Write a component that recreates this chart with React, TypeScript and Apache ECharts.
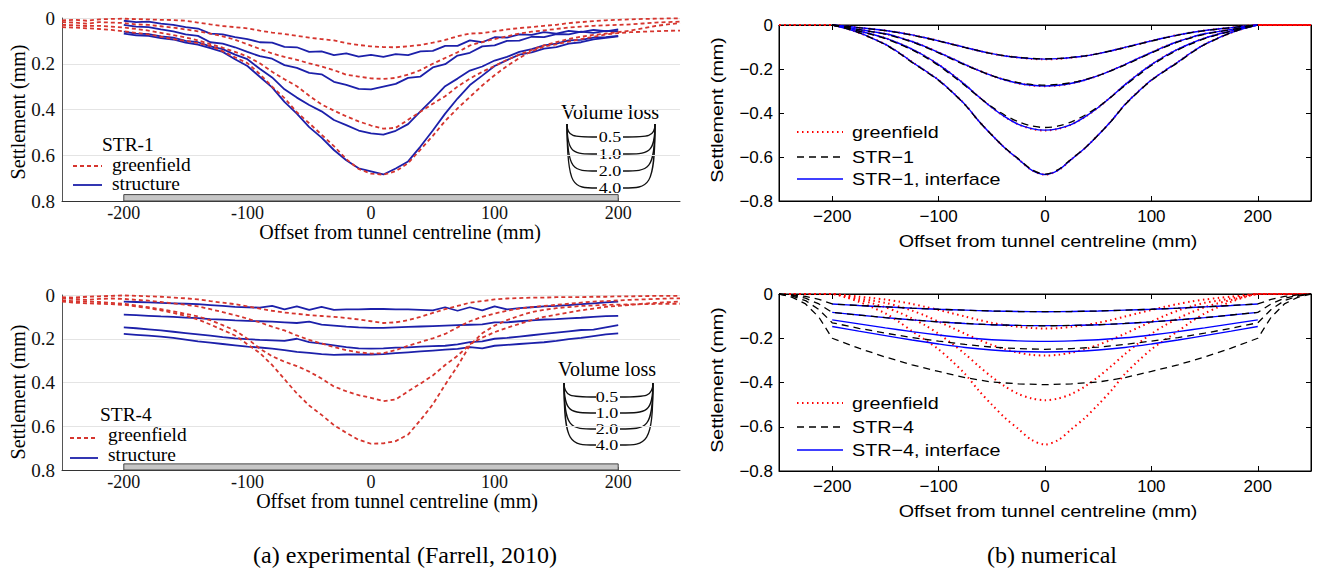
import React, { useEffect, useRef } from "react";
import * as echarts from "echarts";

// ---------- x positions (mm) ----------
const X_EXP_GF = [-250,-240,-230,-220,-210,-200,-190,-180,-170,-160,-150,-140,-130,-120,-110,-100,-90,-80,-70,-60,-50,-40,-30,-20,-10,0,10,20,30,40,50,60,70,80,90,100,110,120,130,140,150,160,170,180,190,200,210,220,230,240,250];
const X_EXP_STR = [-200,-190,-180,-170,-160,-150,-140,-130,-120,-110,-100,-90,-80,-70,-60,-50,-40,-30,-20,-10,0,10,20,30,40,50,60,70,80,90,100,110,120,130,140,150,160,170,180,190,200];
const X_NUM_GF = [-250,-237.5,-225,-212.5,-200,-187.5,-175,-162.5,-150,-137.5,-125,-112.5,-100,-87.5,-75,-62.5,-50,-37.5,-25,-12.5,0,12.5,25,37.5,50,62.5,75,87.5,100,112.5,125,137.5,150,162.5,175,187.5,200,212.5,225,237.5,250];
const X_NUM_STR = [-200,-187.5,-175,-162.5,-150,-137.5,-125,-112.5,-100,-87.5,-75,-62.5,-50,-37.5,-25,-12.5,0,12.5,25,37.5,50,62.5,75,87.5,100,112.5,125,137.5,150,162.5,175,187.5,200];
const X_NUM_INT4 = [-200,-175,-150,-125,-100,-75,-50,-25,0,25,50,75,100,125,150,175,200];
const X_NUM_STR4 = [-250,-237.5,-225,-212.5,-200,-175,-150,-125,-100,-75,-50,-25,0,25,50,75,100,125,150,175,200,212.5,225,237.5,250];
const X_TICKS = [-200, -100, 0, 100, 200];
const VOLUME_LOSS = ["0.5", "1.0", "2.0", "4.0"];
const BUILDING = [-200, 200];
const BUILDING_DEPTH = [0.772, 0.8];

// ---------- (a) experimental, STR-1 (settlement, mm, positive down) ----------
const GF05_A1 = [0.010,0.008,0.012,0.006,0.004,0.003,0.005,0.006,0.008,0.009,0.012,0.020,0.028,0.035,0.040,0.045,0.055,0.064,0.070,0.078,0.086,0.092,0.098,0.110,0.118,0.124,0.127,0.128,0.124,0.118,0.108,0.096,0.080,0.068,0.066,0.058,0.050,0.044,0.040,0.034,0.030,0.022,0.018,0.014,0.010,0.008,0.006,0.004,0.003,0.002,0.002];
const GF10_A1 = [0.018,0.020,0.025,0.018,0.020,0.022,0.028,0.030,0.036,0.042,0.050,0.058,0.068,0.080,0.095,0.115,0.135,0.155,0.170,0.183,0.198,0.212,0.228,0.248,0.256,0.264,0.266,0.262,0.248,0.228,0.200,0.175,0.150,0.120,0.105,0.092,0.080,0.068,0.060,0.054,0.048,0.042,0.038,0.034,0.032,0.030,0.028,0.024,0.020,0.018,0.016];
const GF20_A1 = [0.030,0.032,0.035,0.034,0.038,0.042,0.048,0.055,0.065,0.075,0.085,0.098,0.114,0.130,0.148,0.168,0.198,0.235,0.268,0.298,0.340,0.378,0.405,0.430,0.452,0.470,0.484,0.480,0.445,0.410,0.375,0.342,0.300,0.265,0.235,0.210,0.183,0.160,0.140,0.120,0.105,0.092,0.082,0.074,0.068,0.062,0.055,0.045,0.035,0.028,0.022];
const GF40_A1 = [0.040,0.042,0.045,0.048,0.052,0.058,0.065,0.072,0.082,0.092,0.100,0.110,0.122,0.145,0.172,0.197,0.245,0.300,0.350,0.412,0.460,0.510,0.560,0.617,0.660,0.680,0.685,0.670,0.635,0.575,0.515,0.450,0.395,0.345,0.295,0.250,0.210,0.175,0.145,0.125,0.115,0.103,0.092,0.082,0.072,0.066,0.062,0.060,0.058,0.056,0.055];
const S05_A1 = [0.012,0.018,0.016,0.025,0.030,0.040,0.046,0.068,0.072,0.084,0.092,0.106,0.108,0.126,0.128,0.148,0.146,0.162,0.155,0.169,0.161,0.170,0.158,0.162,0.146,0.144,0.122,0.122,0.098,0.106,0.084,0.086,0.072,0.074,0.062,0.068,0.056,0.062,0.052,0.058,0.050];
const S10_A1 = [0.030,0.038,0.040,0.050,0.058,0.072,0.078,0.106,0.112,0.128,0.148,0.167,0.178,0.206,0.218,0.240,0.246,0.279,0.292,0.310,0.312,0.300,0.288,0.262,0.256,0.216,0.202,0.164,0.152,0.124,0.120,0.100,0.099,0.082,0.084,0.070,0.072,0.060,0.065,0.056,0.058];
const S20_A1 = [0.060,0.068,0.070,0.080,0.086,0.100,0.106,0.124,0.136,0.160,0.180,0.222,0.260,0.312,0.348,0.380,0.408,0.446,0.468,0.492,0.504,0.510,0.493,0.464,0.408,0.355,0.298,0.265,0.230,0.212,0.186,0.170,0.148,0.136,0.120,0.112,0.098,0.096,0.086,0.084,0.078];
const S40_A1 = [0.068,0.076,0.078,0.088,0.094,0.108,0.116,0.132,0.148,0.180,0.210,0.257,0.303,0.367,0.418,0.477,0.523,0.577,0.622,0.657,0.670,0.684,0.658,0.627,0.562,0.492,0.418,0.352,0.293,0.252,0.210,0.184,0.160,0.150,0.134,0.127,0.112,0.106,0.093,0.087,0.080];

// ---------- (a) experimental, STR-4 ----------
const GF05_A2 = [0.010,0.012,0.008,0.006,0.004,0.002,0.004,0.006,0.008,0.012,0.015,0.020,0.028,0.035,0.042,0.052,0.062,0.072,0.080,0.086,0.092,0.096,0.100,0.105,0.112,0.120,0.128,0.125,0.115,0.100,0.082,0.065,0.050,0.035,0.028,0.020,0.016,0.014,0.012,0.012,0.010,0.010,0.010,0.008,0.008,0.006,0.006,0.005,0.004,0.004,0.004];
const GF10_A2 = [0.015,0.018,0.022,0.018,0.016,0.018,0.022,0.026,0.032,0.038,0.045,0.052,0.065,0.078,0.092,0.108,0.125,0.145,0.162,0.185,0.205,0.222,0.238,0.252,0.262,0.268,0.266,0.252,0.232,0.215,0.198,0.178,0.148,0.120,0.100,0.085,0.072,0.062,0.055,0.050,0.045,0.040,0.035,0.030,0.028,0.025,0.022,0.020,0.018,0.016,0.015];
const GF20_A2 = [0.025,0.028,0.030,0.032,0.036,0.040,0.048,0.056,0.065,0.075,0.086,0.098,0.115,0.138,0.162,0.200,0.245,0.280,0.305,0.325,0.350,0.382,0.418,0.440,0.458,0.470,0.485,0.478,0.440,0.405,0.368,0.320,0.278,0.225,0.195,0.170,0.150,0.132,0.115,0.100,0.090,0.080,0.070,0.062,0.054,0.050,0.045,0.040,0.036,0.033,0.030];
const GF40_A2 = [0.030,0.035,0.038,0.040,0.042,0.045,0.052,0.060,0.070,0.082,0.095,0.112,0.135,0.160,0.185,0.225,0.265,0.320,0.385,0.450,0.505,0.548,0.595,0.630,0.662,0.680,0.678,0.668,0.638,0.572,0.500,0.410,0.325,0.230,0.175,0.140,0.115,0.095,0.078,0.068,0.060,0.055,0.050,0.048,0.045,0.044,0.043,0.042,0.041,0.040,0.040];
const S05_A2 = [0.030,0.032,0.034,0.036,0.038,0.040,0.042,0.046,0.050,0.054,0.056,0.058,0.050,0.066,0.052,0.068,0.054,0.068,0.066,0.066,0.064,0.064,0.066,0.066,0.068,0.070,0.056,0.072,0.056,0.070,0.052,0.066,0.060,0.056,0.052,0.050,0.046,0.042,0.038,0.034,0.030];
const S10_A2 = [0.090,0.092,0.095,0.098,0.100,0.103,0.106,0.110,0.113,0.116,0.118,0.120,0.122,0.125,0.128,0.122,0.135,0.140,0.145,0.148,0.150,0.150,0.148,0.146,0.144,0.142,0.140,0.138,0.136,0.134,0.125,0.125,0.120,0.116,0.112,0.110,0.107,0.104,0.100,0.097,0.095];
const S20_A2 = [0.148,0.152,0.157,0.162,0.168,0.174,0.180,0.186,0.193,0.198,0.202,0.205,0.207,0.210,0.200,0.215,0.222,0.230,0.238,0.244,0.245,0.244,0.241,0.239,0.236,0.234,0.232,0.226,0.215,0.212,0.200,0.196,0.190,0.184,0.178,0.172,0.166,0.160,0.158,0.148,0.138];
const S40_A2 = [0.178,0.182,0.186,0.190,0.196,0.204,0.212,0.218,0.224,0.230,0.236,0.240,0.245,0.252,0.260,0.265,0.270,0.274,0.272,0.272,0.272,0.270,0.266,0.262,0.258,0.254,0.250,0.246,0.238,0.244,0.232,0.228,0.224,0.220,0.216,0.210,0.202,0.196,0.188,0.180,0.175];

// ---------- (b) numerical (settlement, mm, negative down) ----------
const GFN_05 = [0,0,0,0,0,-0.005,-0.012,-0.018,-0.025,-0.034,-0.045,-0.058,-0.072,-0.087,-0.102,-0.117,-0.130,-0.141,-0.148,-0.154,-0.156,-0.154,-0.148,-0.141,-0.130,-0.117,-0.102,-0.087,-0.072,-0.058,-0.045,-0.034,-0.025,-0.018,-0.012,-0.005,0,0,0,0,0];
const GFN_10 = [0,0,0,0,0,-0.009,-0.020,-0.030,-0.040,-0.056,-0.075,-0.098,-0.125,-0.152,-0.180,-0.206,-0.230,-0.250,-0.265,-0.275,-0.278,-0.275,-0.265,-0.250,-0.230,-0.206,-0.180,-0.152,-0.125,-0.098,-0.075,-0.056,-0.040,-0.030,-0.020,-0.009,0,0,0,0,0];
const GFN_20 = [0,0,0,0,0,-0.012,-0.027,-0.042,-0.060,-0.083,-0.110,-0.142,-0.180,-0.224,-0.272,-0.325,-0.375,-0.418,-0.452,-0.472,-0.480,-0.472,-0.452,-0.418,-0.375,-0.325,-0.272,-0.224,-0.180,-0.142,-0.110,-0.083,-0.060,-0.042,-0.027,-0.012,0,0,0,0,0];
const GFN_40 = [0,0,0,0,0,-0.015,-0.035,-0.060,-0.088,-0.125,-0.168,-0.208,-0.250,-0.303,-0.362,-0.435,-0.500,-0.560,-0.610,-0.660,-0.680,-0.660,-0.610,-0.560,-0.500,-0.435,-0.362,-0.303,-0.250,-0.208,-0.168,-0.125,-0.088,-0.060,-0.035,-0.015,0,0,0,0,0];
const INT1_05 = [0,-0.005,-0.012,-0.018,-0.025,-0.034,-0.045,-0.058,-0.072,-0.087,-0.102,-0.117,-0.130,-0.141,-0.148,-0.153,-0.155,-0.153,-0.148,-0.141,-0.130,-0.117,-0.102,-0.087,-0.072,-0.058,-0.045,-0.034,-0.025,-0.018,-0.012,-0.005,0];
const INT1_10 = [0,-0.009,-0.020,-0.030,-0.040,-0.056,-0.075,-0.098,-0.125,-0.152,-0.180,-0.206,-0.230,-0.250,-0.265,-0.274,-0.277,-0.274,-0.265,-0.250,-0.230,-0.206,-0.180,-0.152,-0.125,-0.098,-0.075,-0.056,-0.040,-0.030,-0.020,-0.009,0];
const INT1_20 = [0,-0.012,-0.027,-0.042,-0.060,-0.083,-0.110,-0.142,-0.180,-0.224,-0.272,-0.325,-0.375,-0.418,-0.452,-0.471,-0.478,-0.471,-0.452,-0.418,-0.375,-0.325,-0.272,-0.224,-0.180,-0.142,-0.110,-0.083,-0.060,-0.042,-0.027,-0.012,0];
const INT1_40 = [0,-0.015,-0.035,-0.060,-0.088,-0.125,-0.168,-0.208,-0.250,-0.303,-0.362,-0.435,-0.500,-0.560,-0.610,-0.660,-0.680,-0.660,-0.610,-0.560,-0.500,-0.435,-0.362,-0.303,-0.250,-0.208,-0.168,-0.125,-0.088,-0.060,-0.035,-0.015,0];
const STR1_05 = [0,-0.005,-0.012,-0.019,-0.026,-0.035,-0.046,-0.059,-0.073,-0.088,-0.103,-0.117,-0.130,-0.140,-0.147,-0.152,-0.154,-0.152,-0.147,-0.140,-0.130,-0.117,-0.103,-0.088,-0.073,-0.059,-0.046,-0.035,-0.026,-0.019,-0.012,-0.005,0];
const STR1_10 = [0,-0.009,-0.021,-0.031,-0.042,-0.058,-0.077,-0.101,-0.127,-0.155,-0.182,-0.207,-0.230,-0.248,-0.262,-0.270,-0.273,-0.270,-0.262,-0.248,-0.230,-0.207,-0.182,-0.155,-0.127,-0.101,-0.077,-0.058,-0.042,-0.031,-0.021,-0.009,0];
const STR1_20 = [0,-0.012,-0.028,-0.044,-0.062,-0.086,-0.113,-0.146,-0.184,-0.229,-0.276,-0.326,-0.372,-0.410,-0.440,-0.459,-0.466,-0.459,-0.440,-0.410,-0.372,-0.326,-0.276,-0.229,-0.184,-0.146,-0.113,-0.086,-0.062,-0.044,-0.028,-0.012,0];
const STR1_40 = [0,-0.015,-0.035,-0.061,-0.089,-0.127,-0.170,-0.210,-0.252,-0.305,-0.364,-0.436,-0.500,-0.559,-0.608,-0.657,-0.678,-0.657,-0.608,-0.559,-0.500,-0.436,-0.364,-0.305,-0.252,-0.210,-0.170,-0.127,-0.089,-0.061,-0.035,-0.015,0];
const STR4_05 = [0,-0.004,-0.011,-0.024,-0.045,-0.052,-0.058,-0.064,-0.069,-0.073,-0.077,-0.079,-0.080,-0.079,-0.077,-0.073,-0.069,-0.064,-0.058,-0.052,-0.045,-0.024,-0.011,-0.004,0];
const STR4_10 = [0,-0.006,-0.019,-0.045,-0.083,-0.095,-0.107,-0.117,-0.126,-0.133,-0.139,-0.142,-0.144,-0.142,-0.139,-0.133,-0.126,-0.117,-0.107,-0.095,-0.083,-0.045,-0.019,-0.006,0];
const STR4_20 = [0,-0.010,-0.030,-0.070,-0.130,-0.155,-0.177,-0.197,-0.213,-0.228,-0.240,-0.247,-0.250,-0.247,-0.240,-0.228,-0.213,-0.197,-0.177,-0.155,-0.130,-0.070,-0.030,-0.010,0];
const STR4_40 = [0,-0.015,-0.045,-0.105,-0.200,-0.245,-0.285,-0.320,-0.350,-0.378,-0.398,-0.406,-0.410,-0.406,-0.398,-0.378,-0.350,-0.320,-0.285,-0.245,-0.200,-0.105,-0.045,-0.015,0];
const INT4_05 = [-0.045,-0.052,-0.058,-0.064,-0.069,-0.073,-0.077,-0.079,-0.080,-0.079,-0.077,-0.073,-0.069,-0.064,-0.058,-0.052,-0.045];
const INT4_10 = [-0.083,-0.095,-0.107,-0.117,-0.126,-0.133,-0.139,-0.142,-0.143,-0.142,-0.139,-0.133,-0.126,-0.117,-0.107,-0.095,-0.083];
const INT4_20 = [-0.117,-0.135,-0.153,-0.170,-0.185,-0.198,-0.207,-0.212,-0.214,-0.212,-0.207,-0.198,-0.185,-0.170,-0.153,-0.135,-0.117];
const INT4_40 = [-0.147,-0.168,-0.188,-0.208,-0.226,-0.242,-0.253,-0.260,-0.262,-0.260,-0.253,-0.242,-0.226,-0.208,-0.188,-0.168,-0.147];

const SERIF = '"Liberation Serif", "Times New Roman", serif';
const SANS = '"Liberation Sans", Arial, Helvetica, sans-serif';
const RED_EXP = "#d6352e";
const NAVY = "#1c20aa";
const RED_NUM = "#ff0000";
const BLUE_NUM = "#0000ff";

const pairs = (xs: number[], ys: number[]) => xs.map((x, i) => [x, ys[i]]);

function txt(text: string, x: number, y: number, font: string, opts: any = {}) {
  const align = opts.align || "left";
  return {
    type: "text",
    x,
    y,
    rotation: opts.rotation || 0,
    scaleX: opts.scaleX || 1,
    silent: true,
    style: {
      text,
      font,
      fill: "#000",
      align,
      textAlign: align,
      verticalAlign: "middle",
      textVerticalAlign: "middle",
    },
  };
}

function seg(x1: number, x2: number, y: number, stroke: string, width: number, dash: any) {
  return {
    type: "line",
    silent: true,
    shape: { x1, y1: y, x2, y2: y },
    style: { stroke, lineWidth: width, lineDash: dash },
  };
}

function volumeLoss(cx: number, titleY: number, ys: number[], topY: number, leftX: number, rightX: number, labL: number, labR: number) {
  const els: any[] = [txt("Volume loss", cx, titleY, `20px ${SERIF}`, { align: "center" })];
  ys.forEach((y, i) => {
    els.push({
      type: "bezierCurve",
      silent: true,
      shape: { x1: leftX, y1: topY, cpx1: leftX, cpy1: y, cpx2: leftX + 6, cpy2: y, x2: labL, y2: y },
      style: { stroke: "#111", lineWidth: 1.3, fill: null },
    });
    els.push({
      type: "bezierCurve",
      silent: true,
      shape: { x1: labR, y1: y, cpx1: rightX - 6, cpy1: y, cpx2: rightX, cpy2: y, x2: rightX, y2: topY },
      style: { stroke: "#111", lineWidth: 1.3, fill: null },
    });
    els.push(txt(VOLUME_LOSS[i], cx, y, `15px ${SERIF}`, { align: "center", scaleX: 1.2 }));
  });
  return els;
}

const expX = (gi: number) => ({
  type: "value",
  gridIndex: gi,
  min: -250,
  max: 250,
  position: "bottom",
  axisLine: { show: true, onZero: false, lineStyle: { color: "#333", width: 1 } },
  axisTick: { show: true, inside: true, length: 3, customValues: X_TICKS, lineStyle: { color: "#777" } },
  axisLabel: { customValues: X_TICKS, fontFamily: SERIF, fontSize: 18, color: "#111", margin: 3 },
  splitLine: { show: false },
});
const expY = (gi: number) => ({
  type: "value",
  gridIndex: gi,
  inverse: true,
  min: 0,
  max: 0.8,
  interval: 0.2,
  axisLine: { show: true, onZero: false, lineStyle: { color: "#555", width: 1 } },
  axisTick: { show: false },
  axisLabel: {
    fontFamily: SERIF,
    fontSize: 19,
    color: "#111",
    margin: 7,
    formatter: (v: number) => (v === 0 ? "0" : v.toFixed(1)),
  },
  splitLine: { show: true, lineStyle: { color: "#e4e4e4", width: 1 } },
});
const numX = (gi: number, top = false) => ({
  type: "value",
  gridIndex: gi,
  min: -250,
  max: 250,
  position: top ? "top" : "bottom",
  axisLine: { show: true, onZero: false, lineStyle: { color: "#000", width: 1 } },
  axisTick: { show: true, inside: true, length: 5, customValues: X_TICKS, lineStyle: { color: "#000" } },
  axisLabel: {
    show: !top,
    customValues: X_TICKS,
    fontFamily: SANS,
    fontSize: 17,
    color: "#000",
    margin: 7,
    formatter: (v: number) => (v < 0 ? "\u2212" + Math.abs(v) : String(v)),
  },
  splitLine: { show: false },
});
const numY = (gi: number, right = false) => ({
  type: "value",
  gridIndex: gi,
  min: -0.8,
  max: 0,
  interval: 0.2,
  position: right ? "right" : "left",
  axisLine: { show: true, onZero: false, lineStyle: { color: "#000", width: 1 } },
  axisTick: { show: true, inside: true, length: 5, lineStyle: { color: "#000" } },
  axisLabel: {
    show: !right,
    fontFamily: SANS,
    fontSize: 17,
    color: "#000",
    margin: 6,
    formatter: (v: number) => (Math.abs(v) < 1e-9 ? "0" : "\u2212" + Math.abs(v).toFixed(1)),
  },
  splitLine: { show: false },
});

function line(gi: number, xs: number[], ys: number[], color: string, width: number, type: any, smooth: any = false, extra: any = {}) {
  return {
    type: "line",
    xAxisIndex: gi,
    yAxisIndex: gi,
    data: pairs(xs, ys),
    symbol: "none",
    smooth,
    silent: true,
    lineStyle: { color, width, type },
    ...extra,
  };
}

const buildingArea = {
  silent: true,
  itemStyle: { color: "#c6c6c6", borderColor: "#444", borderWidth: 1 },
  data: [[{ coord: [BUILDING[0], BUILDING_DEPTH[0]] }, { coord: [BUILDING[1], BUILDING_DEPTH[1]] }]],
};

export default function App() {
  const ref = useRef<HTMLDivElement>(null);
  useEffect(() => {
    const chart = echarts.init(ref.current!, null, { renderer: "svg" });
    const series: any[] = [];
    // (a) STR-1
    [S05_A1, S10_A1, S20_A1, S40_A1].forEach((d, i) =>
      series.push(line(0, X_EXP_STR, d, NAVY, 1.8, "solid", false, i === 0 ? { markArea: buildingArea } : {}))
    );
    [GF05_A1, GF10_A1, GF20_A1, GF40_A1].forEach((d) => series.push(line(0, X_EXP_GF, d, RED_EXP, 1.8, [4, 3])));
    // (a) STR-4
    [S05_A2, S10_A2, S20_A2, S40_A2].forEach((d, i) =>
      series.push(line(1, X_EXP_STR, d, NAVY, 1.8, "solid", false, i === 0 ? { markArea: buildingArea } : {}))
    );
    [GF05_A2, GF10_A2, GF20_A2, GF40_A2].forEach((d) => series.push(line(1, X_EXP_GF, d, RED_EXP, 1.8, [4, 3])));
    // (b) STR-1
    [GFN_05, GFN_10, GFN_20, GFN_40].forEach((d) => series.push(line(2, X_NUM_GF, d, RED_NUM, 2, [1.5, 3.5], 0.3)));
    [INT1_05, INT1_10, INT1_20, INT1_40].forEach((d) => series.push(line(2, X_NUM_STR, d, BLUE_NUM, 1.4, "solid", 0.3)));
    [STR1_05, STR1_10, STR1_20, STR1_40].forEach((d) => series.push(line(2, X_NUM_STR, d, "#000", 1.3, [7, 5], 0.3)));
    // (b) STR-4
    [GFN_05, GFN_10, GFN_20, GFN_40].forEach((d) => series.push(line(3, X_NUM_GF, d, RED_NUM, 2, [1.5, 3.5], 0.3)));
    [INT4_05, INT4_10, INT4_20, INT4_40].forEach((d) => series.push(line(3, X_NUM_INT4, d, BLUE_NUM, 1.4, "solid", 0.3)));
    [STR4_05, STR4_10, STR4_20, STR4_40].forEach((d) => series.push(line(3, X_NUM_STR4, d, "#000", 1.3, [7, 5], false)));

    const serif20 = `20px ${SERIF}`;
    const serif18 = `18px ${SERIF}`;
    const sans17 = `17px ${SANS}`;
    const SX = 1.16;
    const graphicEls: any[] = [
      // (a) STR-1 texts
      txt("Settlement (mm)", 18, 112, serif20, { align: "center", rotation: Math.PI / 2 }),
      txt("Offset from tunnel centreline (mm)", 400, 232, serif20, { align: "center" }),
      txt("STR-1", 102, 145, serif18, { scaleX: 1.08 }),
      seg(73, 102, 166, RED_EXP, 1.8, [4, 3]),
      txt("greenfield", 112, 165, serif18, { scaleX: 1.08 }),
      seg(73, 102, 185, NAVY, 1.8, null),
      txt("structure", 112, 184, serif18, { scaleX: 1.08 }),
      ...volumeLoss(610, 112, [137, 154, 171, 188], 124, 567, 655, 597, 623),
      // (a) STR-4 texts
      txt("Settlement (mm)", 18, 392, serif20, { align: "center", rotation: Math.PI / 2 }),
      txt("Offset from tunnel centreline (mm)", 397, 501, serif20, { align: "center" }),
      txt("STR-4", 100, 415, serif18, { scaleX: 1.08 }),
      seg(70, 98, 438, RED_EXP, 1.8, [4, 3]),
      txt("greenfield", 108, 435, serif18, { scaleX: 1.08 }),
      seg(70, 98, 458, NAVY, 1.8, null),
      txt("structure", 108, 455, serif18, { scaleX: 1.08 }),
      ...volumeLoss(607, 369, [397, 413, 429, 445], 382, 564, 653, 596, 620),
      // (b) STR-1 texts
      txt("Settlement (mm)", 717, 110, sans17, { align: "center", rotation: Math.PI / 2, scaleX: SX }),
      txt("Offset from tunnel centreline (mm)", 1048, 241, sans17, { align: "center", scaleX: SX }),
      seg(797, 843, 132, RED_NUM, 2, [1.5, 3.5]),
      txt("greenfield", 852, 132, sans17, { scaleX: SX }),
      seg(797, 843, 157, "#000", 1.3, [7, 5]),
      txt("STR\u22121", 852, 157, sans17, { scaleX: SX }),
      seg(797, 843, 179, BLUE_NUM, 1.4, null),
      txt("STR\u22121, interface", 852, 179, sans17, { scaleX: SX }),
      // (b) STR-4 texts
      txt("Settlement (mm)", 717, 380, sans17, { align: "center", rotation: Math.PI / 2, scaleX: SX }),
      txt("Offset from tunnel centreline (mm)", 1048, 511, sans17, { align: "center", scaleX: SX }),
      seg(797, 843, 403, RED_NUM, 2, [1.5, 3.5]),
      txt("greenfield", 852, 403, sans17, { scaleX: SX }),
      seg(797, 843, 427, "#000", 1.3, [7, 5]),
      txt("STR\u22124", 852, 427, sans17, { scaleX: SX }),
      seg(797, 843, 450, BLUE_NUM, 1.4, null),
      txt("STR\u22124, interface", 852, 450, sans17, { scaleX: SX }),
      // captions
      txt("(a) experimental (Farrell, 2010)", 405, 555, `24px ${SERIF}`, { align: "center" }),
      txt("(b) numerical", 1052, 555, `24px ${SERIF}`, { align: "center" }),
    ];

    chart.setOption({
      animation: false,
      backgroundColor: "#fff",
      textStyle: { fontFamily: SANS },
      grid: [
        { left: 62, top: 18, width: 618, height: 183 },
        { left: 62, top: 295, width: 618, height: 175 },
        { left: 779, top: 25, width: 532, height: 176, show: true, borderColor: "#000", borderWidth: 1, backgroundColor: "transparent" },
        { left: 779, top: 294, width: 532, height: 177, show: true, borderColor: "#000", borderWidth: 1, backgroundColor: "transparent" },
      ],
      xAxis: [expX(0), expX(1), numX(2), numX(3), numX(2, true), numX(3, true)],
      yAxis: [expY(0), expY(1), numY(2), numY(3), numY(2, true), numY(3, true)],
      series,
      graphic: { elements: graphicEls },
    });
    return () => chart.dispose();
  }, []);
  return (
    <div
      ref={ref}
      style={{ position: "absolute", left: 0, top: 0, width: 1317, height: 568, background: "#fff" }}
    />
  );
}
